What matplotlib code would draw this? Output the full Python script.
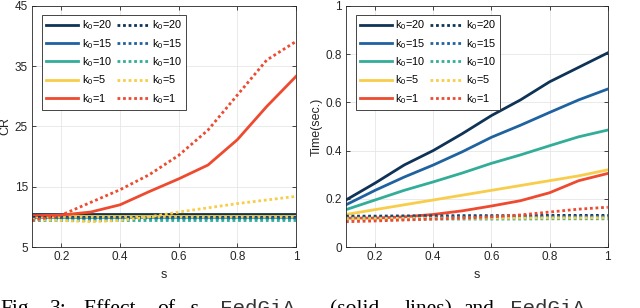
import matplotlib
matplotlib.use('Agg')
import matplotlib.pyplot as plt
import numpy as np

plt.rcParams['font.family'] = ['Liberation Sans', 'DejaVu Sans']
plt.rcParams['mathtext.default'] = 'regular'

s = [0.1, 0.2, 0.3, 0.4, 0.5, 0.6, 0.7, 0.8, 0.9, 1.0]
k0 = [20, 15, 10, 5, 1]
colors = ['#0e3356', '#1f62a0', '#32ad98', '#f8cd4a', '#ee4a2f']

# CR, solid = FedGiA, dotted = other
cr_solid = [
    [10.4, 10.4, 10.4, 10.4, 10.4, 10.4, 10.4, 10.4, 10.4, 10.4],
    [10.2, 10.2, 10.2, 10.2, 10.2, 10.2, 10.2, 10.2, 10.2, 10.2],
    [10.0, 10.0, 10.0, 10.0, 10.0, 10.0, 10.0, 10.0, 10.0, 10.0],
    [10.1, 10.1, 10.1, 10.1, 10.1, 10.1, 10.1, 10.1, 10.1, 10.1],
    [10.2, 10.3, 10.8, 12.0, 14.2, 16.3, 18.6, 22.8, 28.3, 33.3],
]
cr_dot = [
    [10.0, 10.0, 10.0, 10.0, 10.0, 10.0, 10.0, 10.0, 10.0, 10.0],
    [9.8, 9.8, 9.8, 9.8, 9.8, 9.8, 9.8, 9.8, 9.8, 9.8],
    [9.4, 9.4, 9.4, 9.4, 9.4, 9.4, 9.4, 9.4, 9.4, 9.4],
    [9.6, 9.4, 9.2, 9.4, 10.0, 10.8, 11.5, 12.2, 12.8, 13.4],
    [9.4, 10.3, 12.4, 14.5, 17.0, 20.2, 24.4, 30.2, 36.0, 39.1],
]

# Time(sec.)
t_solid = [
    [0.195, 0.265, 0.34, 0.40, 0.47, 0.545, 0.61, 0.685, 0.745, 0.805],
    [0.175, 0.235, 0.29, 0.34, 0.395, 0.455, 0.505, 0.558, 0.61, 0.655],
    [0.155, 0.195, 0.235, 0.27, 0.307, 0.347, 0.382, 0.42, 0.457, 0.485],
    [0.135, 0.155, 0.175, 0.195, 0.215, 0.235, 0.255, 0.275, 0.295, 0.32],
    [0.12, 0.12, 0.125, 0.135, 0.15, 0.17, 0.192, 0.225, 0.275, 0.305],
]
t_dot = [
    [0.128, 0.128, 0.129, 0.129, 0.13, 0.13, 0.13, 0.131, 0.131, 0.131],
    [0.124, 0.124, 0.125, 0.125, 0.125, 0.126, 0.126, 0.126, 0.127, 0.127],
    [0.115, 0.115, 0.115, 0.116, 0.116, 0.116, 0.116, 0.117, 0.117, 0.117],
    [0.118, 0.118, 0.119, 0.119, 0.12, 0.12, 0.12, 0.121, 0.121, 0.121],
    [0.105, 0.108, 0.112, 0.116, 0.12, 0.125, 0.133, 0.145, 0.157, 0.165],
]

fig = plt.figure(figsize=(6.4, 3.08), dpi=100)
ax1 = fig.add_axes([0.05, 0.198, 0.4125, 0.783])
ax2 = fig.add_axes([0.5406, 0.198, 0.409, 0.783])


def panel(ax, solid, dot, ylabel, ylim, yticks):
    for i in range(len(k0)):
        ax.plot(s, solid[i], color=colors[i], lw=2.0, label='k$_0$=%d' % k0[i])
    for i in range(len(k0)):
        ax.plot(s, dot[i], color=colors[i], lw=2.0, ls=(0, (1, 1)), label='k$_0$=%d' % k0[i])
    ax.set_xlim(0.1, 1)
    ax.set_ylim(*ylim)
    ax.set_xticks([0.2, 0.4, 0.6, 0.8, 1])
    ax.set_xticklabels(['0.2', '0.4', '0.6', '0.8', '1'])
    ax.set_yticks(yticks)
    ax.set_yticklabels(['%g' % v for v in yticks])
    ax.grid(True, color='#e6e6e6', lw=0.6)
    ax.set_axisbelow(True)
    ax.tick_params(direction='in', top=True, right=True, labelsize=8.5,
                   length=3, width=0.6, color='#262626', labelcolor='#262626', pad=3)
    for sp in ax.spines.values():
        sp.set_linewidth(0.6)
        sp.set_color('#262626')
    ax.set_xlabel('s', fontsize=9, color='#262626', labelpad=4)
    ax.set_ylabel(ylabel, fontsize=9, color='#262626', labelpad=2)
    leg = ax.legend(ncol=2, loc='upper left', bbox_to_anchor=(0.038, 0.963),
                    borderaxespad=0, fontsize=7.8, handlelength=3.0,
                    handletextpad=0.3, columnspacing=0.45, labelspacing=0.42,
                    borderpad=0.35, fancybox=False, framealpha=1,
                    edgecolor='#262626')
    leg.get_frame().set_linewidth(0.6)


panel(ax1, cr_solid, cr_dot, 'CR', (5, 45), [5, 15, 25, 35, 45])
panel(ax2, t_solid, t_dot, 'Time(sec.)', (0, 1), [0, 0.2, 0.4, 0.6, 0.8, 1])

# caption, cut off by the bottom edge
yb = (308 - 314) / 308
serif = ['Liberation Serif', 'DejaVu Serif']
mono = ['Liberation Mono', 'DejaVu Sans Mono']
fs = 15.5
fig.text(0.0, yb, 'Fig.', family=serif, fontsize=fs, va='baseline')
fig.text(50 / 640, yb, '3:', family=serif, fontsize=fs, va='baseline')
fig.text(83 / 640, yb, 'Effect', family=serif, fontsize=fs, va='baseline')
fig.text(157 / 640, yb, 'of', family=serif, fontsize=fs, va='baseline')
fig.text(190 / 640, yb, 's,', family=serif, style='italic', fontsize=fs, va='baseline')
fig.text(220 / 640, yb, 'FedGiA', family=mono, fontsize=15, va='baseline', color='#333333')
fig.text(330 / 640, yb, '(solid', family=serif, fontsize=fs, va='baseline')
fig.text(405 / 640, yb, 'lines)', family=serif, fontsize=fs, va='baseline')
fig.text(463 / 640, yb, 'and', family=serif, fontsize=fs, va='baseline')
fig.text(510 / 640, yb, 'FedGiA', family=mono, fontsize=15, va='baseline', color='#333333')

fig.savefig('out.png', dpi=100)
